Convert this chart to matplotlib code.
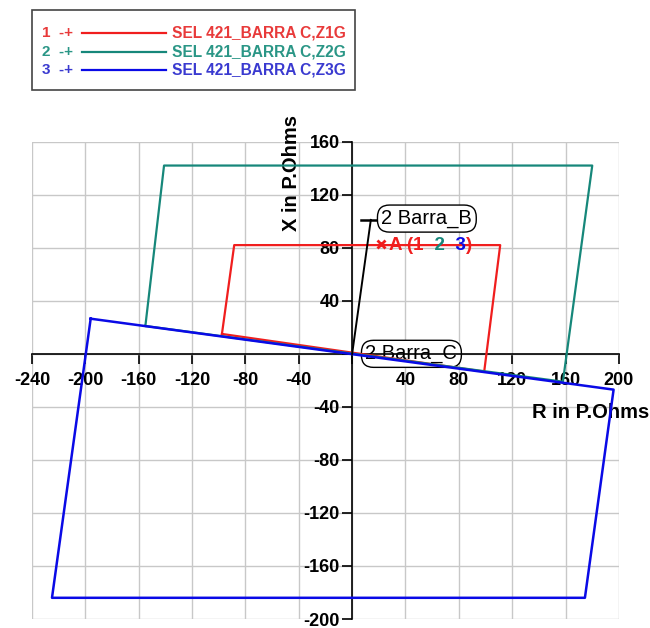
import matplotlib.pyplot as plt
from matplotlib.lines import Line2D
from matplotlib.patches import Rectangle

plt.rcParams['font.family'] = ['Liberation Sans', 'DejaVu Sans']

# zone characteristics (R, X) in primary ohms
z1_r = [-97.6, -88.4, 111, 99, -97.6]
z1_x = [15, 82, 82, -13.4, 15]
z2_r = [-155, -141, 180, 158, -155]
z2_x = [21, 142, 142, -21, 21]
z3_r = [-196, 196, 174.5, -225, -196]
z3_x = [26.5, -27, -184, -184, 26.5]

# line impedance to Barra_B
line_r = [0, 14]
line_x = [0, 101]
tick_r = [7, 19]
tick_x = [101, 101]

names = ['SEL 421_BARRA C,Z1G', 'SEL 421_BARRA C,Z2G', 'SEL 421_BARRA C,Z3G']
colors = ['#f01e1e', '#16877a', '#0a0ae6']
text_colors = ['#e83a3a', '#2a9686', '#3a3ad0']

xticks = [-240, -200, -160, -120, -80, -40, 0, 40, 80, 120, 160, 200]
yticks = [-200, -160, -120, -80, -40, 0, 40, 80, 120, 160]

fig = plt.figure(figsize=(6.5, 6.28), dpi=100)
ax = fig.add_axes([0.0492, 0.0143, 0.903, 0.7601])
ax.set_xlim(-240, 200)
ax.set_ylim(-200, 160)
ax.set_xticks(xticks)
ax.set_yticks(yticks)
ax.set_xticklabels(['' if v == 0 else str(v) for v in xticks])
ax.set_yticklabels(['' if v == 0 else str(v) for v in yticks])
ax.grid(True, color='#c8c8c8', lw=1)
ax.set_axisbelow(True)

for s in ['top', 'right']:
    ax.spines[s].set_visible(False)
ax.spines['left'].set_position(('data', 0))
ax.spines['bottom'].set_position(('data', 0))
ax.spines['left'].set_linewidth(1.2)
ax.spines['bottom'].set_linewidth(1.2)
ax.spines['left'].set_zorder(2.5)
ax.spines['bottom'].set_zorder(2.5)
ax.tick_params(direction='out', length=7, width=1.2, labelsize=13, pad=2)
ax.tick_params(axis='x', pad=6)
for lab in ax.get_xticklabels() + ax.get_yticklabels():
    lab.set_fontweight('bold')

ax.plot(z1_r, z1_x, color=colors[0], lw=1.6, zorder=4)
ax.plot(z2_r, z2_x, color=colors[1], lw=1.6, zorder=4)
ax.plot(z3_r, z3_x, color=colors[2], lw=1.8, zorder=4)
ax.plot(line_r, line_x, color='black', lw=1.4, zorder=4)
ax.plot(tick_r, tick_x, color='black', lw=1.8, zorder=4)

box = dict(boxstyle='round,pad=0.2,rounding_size=0.6', fc='white', ec='black', lw=1)
ax.text(10, 0, '2 Barra_C', fontsize=14.5, ha='left', va='center', bbox=box, zorder=2)
ax.text(22, 102, '2 Barra_B', fontsize=14.5, ha='left', va='center', bbox=box, zorder=5)

ax.plot([22], [83], marker='x', color=colors[0], ms=6, mew=2, zorder=5)
t = ax.text(28, 82, 'A (1', color=colors[0], fontsize=13.5, fontweight='bold',
            ha='left', va='center', zorder=5)
for s, c in [('  2', colors[1]), ('  3', colors[2]), (')', colors[0])]:
    t = ax.annotate(s, xy=(1, 0), xycoords=t, color=c, fontsize=13.5,
                    fontweight='bold', va='bottom', zorder=5)

ax.text(-45.3, 136, 'X in P.Ohms', rotation=90, fontsize=14.5, fontweight='bold',
        ha='center', va='center')
ax.text(179, -44.5, 'R in P.Ohms', fontsize=14.5, fontweight='bold',
        ha='center', va='center', clip_on=False)

# legend box at the top
fig.patches.append(Rectangle((0.049, 0.857), 0.497, 0.127, transform=fig.transFigure,
                             fill=False, ec='#444444', lw=1.2))
rows = [0.9475, 0.917, 0.8885]
for i in range(3):
    fig.text(0.064, rows[i], '%d  -+' % (i + 1), color=text_colors[i], fontsize=11,
             fontweight='bold', ha='left', va='center')
    fig.lines.append(Line2D([0.126, 0.256], [rows[i], rows[i]], transform=fig.transFigure,
                            color=colors[i], lw=1.6))
    fig.text(0.265, rows[i], names[i], color=text_colors[i], fontsize=11.2,
             fontweight='bold', ha='left', va='center')

plt.savefig('out.png')
